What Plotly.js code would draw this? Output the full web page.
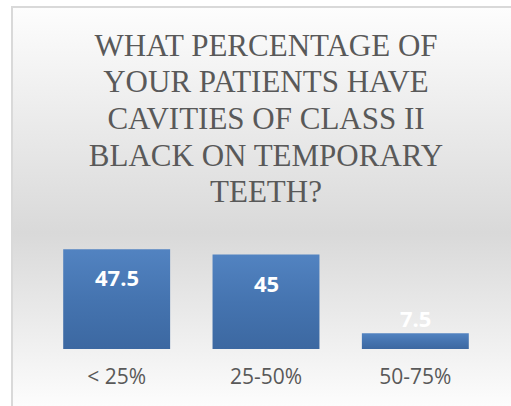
<!DOCTYPE html>
<html>
<head>
<meta charset="utf-8">
<script src="https://cdn.plot.ly/plotly-3.0.1.min.js"></script>
<style>
  html, body { margin: 0; padding: 0; background: #ffffff; overflow: hidden; }
  #wrap { position: relative; width: 511px; height: 406px; overflow: hidden; }
  #frame {
    position: absolute; left: 11px; top: 6px; width: 510px; height: 410px;
    border-left: 2px solid #d9d9d9; border-top: 2px solid #d9d9d9;
    background: linear-gradient(to bottom, #fdfdfd 0%, #d9d9d9 55%, #ffffff 100%);
  }
  #chart { position: absolute; left: 0; top: 0; width: 511px; height: 406px; }
</style>
</head>
<body>
<div id="wrap">
  <div id="frame"></div>
  <div id="chart"></div>
</div>
<script>
// ---- data ----
const categories = ['< 25%', '25-50%', '50-75%'];
const values = [47.5, 45, 7.5];
const valueLabels = ['47.5', '45', '7.5'];
const titleLines = ['WHAT PERCENTAGE OF', 'YOUR PATIENTS HAVE', 'CAVITIES OF CLASS II', 'BLACK ON TEMPORARY', 'TEETH?'];

// ---- chart ----
const insideThreshold = 20;
const annotations = values.map((v, i) => {
  const inside = v >= insideThreshold;
  return {
    x: categories[i], y: v, xref: 'x', yref: 'y',
    text: valueLabels[i], showarrow: false,
    yanchor: inside ? 'top' : 'bottom',
    yshift: inside ? -11 : -2,
    font: { family: '"Open Sans", sans-serif', size: 22, color: '#ffffff', weight: 'bold' }
  };
});

const trace = {
  type: 'bar',
  x: categories,
  y: values,
  marker: { color: '#4776b2', line: { width: 0 } },
  hoverinfo: 'none'
};

const titleSize = 31;
const layout = {
  width: 511, height: 406,
  margin: { l: 42, r: 21, t: 244, b: 57, pad: 0 },
  paper_bgcolor: 'rgba(0,0,0,0)',
  plot_bgcolor: 'rgba(0,0,0,0)',
  showlegend: false,
  bargap: 0.284,
  title: {
    text: titleLines.join('<br>'),
    font: { family: '"Liberation Serif", "Times New Roman", Times, serif', size: titleSize, color: '#595959' },
    x: 0.5, xref: 'paper', xanchor: 'center',
    y: 0.863, yref: 'container', yanchor: 'top'
  },
  xaxis: {
    type: 'category', showgrid: false, zeroline: false, showline: false, ticks: '',
    ticklabelstandoff: 13,
    tickfont: { family: '"Open Sans", sans-serif', size: 21, color: '#595959' }
  },
  yaxis: { range: [0, 50], visible: false, showgrid: false, zeroline: false },
  annotations: annotations
};

function tighten(gd) {
  // reduce the title line spacing to match the reference (about 1.18em instead of 1.3em)
  const factor = 36.7 / (1.3 * titleSize);
  gd.querySelectorAll('.g-gtitle text tspan.line, .gtitle tspan.line').forEach(t => {
    const dy = t.getAttribute('dy');
    if (dy && /em$/.test(dy)) {
      t.setAttribute('dy', (parseFloat(dy) * factor) + 'em');
    }
  });
}

Plotly.newPlot('chart', [trace], layout, { displayModeBar: false, staticPlot: true }).then(gd => {
  tighten(gd);
  const ns = 'http://www.w3.org/2000/svg';
  const svg = gd.querySelector('svg.main-svg');
  let defs = svg.querySelector('defs');
  if (!defs) { defs = document.createElementNS(ns, 'defs'); svg.insertBefore(defs, svg.firstChild); }
  const grad = document.createElementNS(ns, 'linearGradient');
  grad.setAttribute('id', 'barGrad');
  grad.setAttribute('x1', '0'); grad.setAttribute('y1', '0');
  grad.setAttribute('x2', '0'); grad.setAttribute('y2', '1');
  [['0%', '#5283c1'], ['50%', '#4574b0'], ['100%', '#3c68a1']].forEach(([o, c]) => {
    const s = document.createElementNS(ns, 'stop');
    s.setAttribute('offset', o); s.setAttribute('stop-color', c);
    grad.appendChild(s);
  });
  defs.appendChild(grad);
  gd.querySelectorAll('.barlayer .point path').forEach(p => { p.style.fill = 'url(#barGrad)'; });
});
</script>
</body>
</html>
